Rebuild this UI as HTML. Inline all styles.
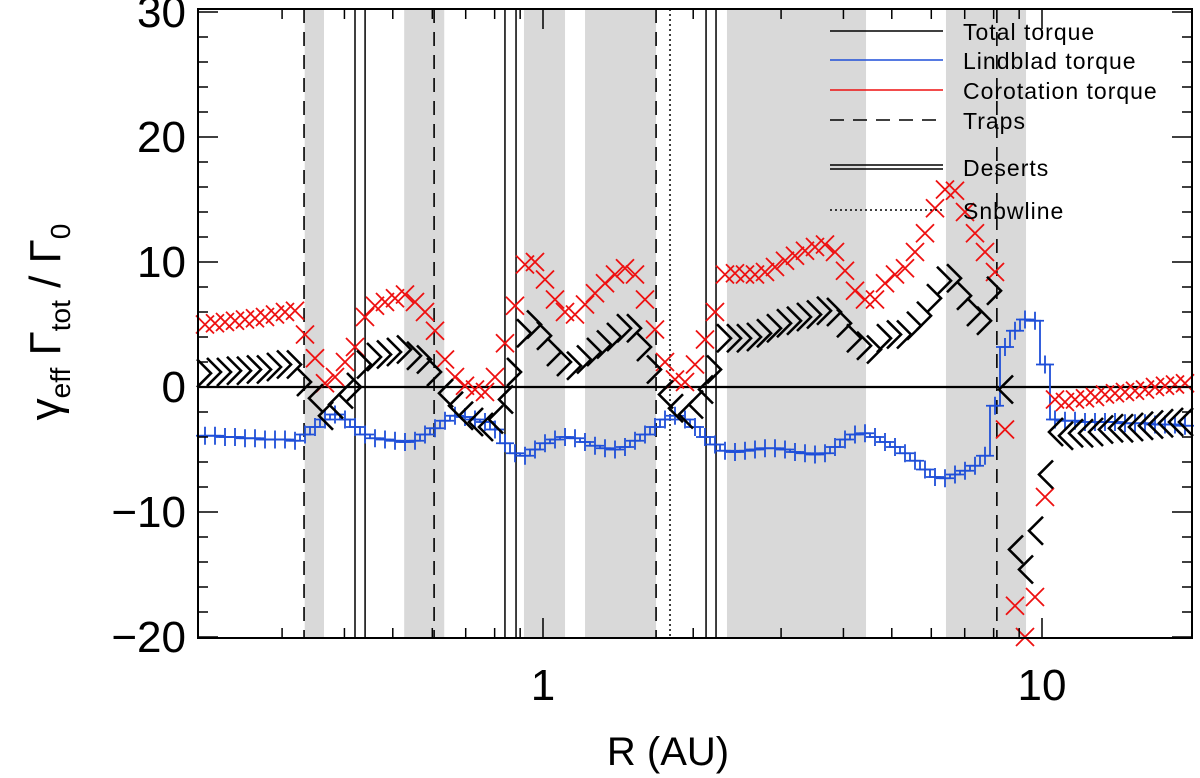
<!DOCTYPE html>
<html><head><meta charset="utf-8"><style>
html,body{margin:0;padding:0;background:#fff;}
svg{display:block;font-family:"Liberation Sans","DejaVu Sans",sans-serif;}
</style></head><body>
<svg id="chart" width="1200" height="778" viewBox="0 0 1200 778">
<g id="bands"></g>
<g id="vlines"></g>
<g id="series"></g>
<g id="axes"></g>
<g id="legend"></g>
</svg>
<script>
// ---- data ----
const gridStartPx = 205, gridStepPx = 10; // sampling grid of radii
const corotation = [5.0,5.1,5.2,5.3,5.4,5.5,5.6,5.8,6.0,6.1,
4.2,2.3,0.3,0.8,2.0,3.2,5.6,6.5,6.8,7.1,7.4,6.8,6.0,4.5,2.2,0.8,0.1,-0.2,-0.4,0.8,
3.5,6.5,9.8,10.0,8.6,7.0,6.0,5.8,6.6,7.5,8.3,9.0,9.5,9.0,7.0,4.6,2.0,0.6,0.4,1.8,
3.8,6.0,9.0,9.1,9.0,9.0,9.2,9.6,10.1,10.5,10.9,11.2,11.4,10.8,9.3,7.7,7.0,7.0,8.3,9.0,
9.5,10.8,12.3,14.3,15.8,15.7,14.0,12.3,10.8,9.2,-3.4,-17.5,-20.0,-16.8,-8.8,
-1.0,-1.2,-1.0,-0.9,-0.8,-0.6,-0.5,-0.4,-0.3,-0.2,0,0.1,0.2,0.3];
const lindblad = [-3.9,-3.9,-4.0,-4.0,-4.1,-4.1,-4.2,-4.2,-4.2,-4.3,
-3.8,-3.2,-2.6,-2.2,-2.6,-3.2,-3.8,-4.1,-4.2,-4.3,-4.4,-4.3,-3.8,-3.3,-2.7,-2.3,-2.4,-2.6,-2.8,-3.4,
-4.5,-5.3,-5.5,-5.0,-4.5,-4.2,-4.0,-4.1,-4.4,-4.7,-4.9,-5.0,-4.8,-4.3,-3.8,-3.2,-2.6,-2.3,-2.6,-3.2,
-4.0,-4.6,-5.1,-5.2,-5.1,-5.0,-4.9,-4.9,-5.0,-5.2,-5.3,-5.4,-5.3,-4.8,-4.2,-3.8,-3.7,-4.0,-4.4,-4.8,
-5.3,-5.9,-6.6,-7.2,-7.3,-7.0,-6.7,-6.3,-5.5,-1.5,3.2,4.5,5.4,5.3,1.8,
-2.6,-2.7,-2.7,-2.8,-2.8,-2.8,-2.8,-2.9,-2.9,-2.9,-3.0,-3.0,-3.0,-3.1];
const bandsR = [[0.333,0.364],[0.527,0.634],[0.916,1.107],[1.214,1.685],[2.337,4.44],[6.42,9.29]];
const trapsR = [0.332,0.605,1.685,8.12];
const desertsR = [[0.420,0.440],[0.839,0.883],[2.122,2.222]];
const snowlineR = [1.797];
const yTicks = [30,20,10,0,-10,-20];
const xTicks = [1,10];
const xTickLabels = ["1","10"];

// ---- scales ----
const X0=198,X1=1192,Y0=9,Y1=638;
const xs = r => 543 + 499*Math.log10(r);
const ys = v => 387 - 12.5*v;
const R = corotation.map((_,k)=>Math.pow(10,(gridStartPx+gridStepPx*k-543)/499));
const NS="http://www.w3.org/2000/svg";
function mk(tag,attrs,parent){const e=document.createElementNS(NS,tag);for(const k in attrs)e.setAttribute(k,attrs[k]);parent.appendChild(e);return e;}
const gB=document.getElementById('bands'),gV=document.getElementById('vlines'),gS=document.getElementById('series'),gA=document.getElementById('axes'),gL=document.getElementById('legend');

bandsR.forEach(b=>{const e=mk('rect',{x:xs(b[0]),y:Y0,width:xs(b[1])-xs(b[0]),height:Y1-Y0,fill:'#d9d9d9'},gB);

});
trapsR.forEach(r=>{const e=mk('line',{x1:xs(r),x2:xs(r),y1:Y0,y2:Y1,stroke:'#000','stroke-width':1.6,'stroke-dasharray':'14,9'},gV);

});
desertsR.forEach(d=>d.forEach(r=>{const e=mk('line',{x1:xs(r),x2:xs(r),y1:Y0,y2:Y1,stroke:'#000','stroke-width':1.5},gV);

}));
snowlineR.forEach(r=>{const e=mk('line',{x1:xs(r),x2:xs(r),y1:Y0,y2:Y1,stroke:'#000','stroke-width':1.5,'stroke-dasharray':'2,3'},gV);

});
const z=mk('line',{x1:X0,x2:X1,y1:ys(0),y2:ys(0),stroke:'#000','stroke-width':2.2},gV);



let d='';
R.forEach((r,k)=>{const x=xs(r),y=ys(lindblad[k]);
 const xl=k?(xs(R[k-1])+x)/2:x-5, xr=k<R.length-1?(x+xs(R[k+1]))/2:x+5;
 d+=(k?'L':'M')+xl+','+y+'L'+xr+','+y;});
const step=mk('path',{d:d,fill:'none',stroke:'#1f4fd8','stroke-width':1.8},gS);


R.forEach((r,k)=>{const x=xs(r),y=ys(lindblad[k]);
 const e=mk('path',{d:`M${x-9},${y}H${x+9}M${x},${y-9}V${y+9}`,stroke:'#1f4fd8','stroke-width':1.8,fill:'none'},gS);
 
 });
R.forEach((r,k)=>{const x=xs(r),y=ys(corotation[k]);
 const e=mk('path',{d:`M${x-9},${y-9}L${x+9},${y+9}M${x-9},${y+9}L${x+9},${y-9}`,stroke:'#ee1111','stroke-width':1.8,fill:'none'},gS);
 
 });
R.forEach((r,k)=>{const v=corotation[k]+lindblad[k];const x=xs(r),y=ys(v);
 const s=v>=0?1:-1, tx=x+6*s;
 const e=mk('path',{d:`M${tx-14*s},${y-14}L${tx},${y}L${tx-14*s},${y+14}`,stroke:'#000','stroke-width':2.6,fill:'none'},gS);
 
 });

const fr=mk('rect',{x:X0,y:Y0,width:X1-X0,height:Y1-Y0,fill:'none',stroke:'#000','stroke-width':2},gA);


for(let v=-20;v<=30;v+=2){const y=ys(v);const L=(v%10===0)?20:10;
 mk('line',{x1:X0,x2:X0+L,y1:y,y2:y,stroke:'#000','stroke-width':1.5},gA);
 mk('line',{x1:X1-L,x2:X1,y1:y,y2:y,stroke:'#000','stroke-width':1.5},gA);}
yTicks.forEach(v=>{const t=mk('text',{x:186,y:ys(v)+15,'text-anchor':'end','font-size':44,fill:'#000'},gA);
 t.textContent=(v<0?'\u2212':'')+Math.abs(v);
 
 });
for(let dec=0.1;dec<=10;dec*=10){for(let m=1;m<10;m++){const r=m*dec;const x=xs(r);if(x<X0||x>X1)continue;
 const L=m===1?20:10;
 mk('line',{x1:x,x2:x,y1:Y1,y2:Y1-L,stroke:'#000','stroke-width':1.5},gA);
 mk('line',{x1:x,x2:x,y1:Y0,y2:Y0+L,stroke:'#000','stroke-width':1.5},gA);}}
xTicks.forEach((r,i)=>{const t=mk('text',{x:xs(r),y:700,'text-anchor':'middle','font-size':44,fill:'#000'},gA);
 t.textContent=xTickLabels[i];
 
 });
const xt=mk('text',{x:668,y:765,'text-anchor':'middle','font-size':40,fill:'#000'},gA);
xt.textContent='R (AU)';


const yt=mk('text',{x:0,y:0,'text-anchor':'middle','font-size':44,fill:'#000',transform:'translate(60,322) rotate(-90)'},gA);
yt.innerHTML='<tspan>γ</tspan><tspan font-size="28" dy="10">eff</tspan><tspan dy="-10"> Γ</tspan><tspan font-size="28" dy="10">tot</tspan><tspan dy="-10"> / Γ</tspan><tspan font-size="28" dy="10">0</tspan>';



const legItems=[["Total torque",31,'#000',''],["Lindblad torque",60,'#1f4fd8',''],["Corotation torque",90,'#ee1111',''],["Traps",120,'#000','14,9'],["Deserts",167,'#000','double'],["Snbwline",210,'#000','2,3']];
legItems.forEach(it=>{const g=mk('g',{},gL);
 
 
 if(it[3]==='double'){mk('line',{x1:830,x2:943,y1:it[1]-2,y2:it[1]-2,stroke:'#000','stroke-width':1.5},g);mk('line',{x1:830,x2:943,y1:it[1]+2,y2:it[1]+2,stroke:'#000','stroke-width':1.5},g);}
 else mk('line',{x1:830,x2:943,y1:it[1],y2:it[1],stroke:it[2],'stroke-width':1.6,'stroke-dasharray':it[3]||'none'},g);
 const t=mk('text',{x:963,y:it[1]+9,'font-size':23,fill:'#000','letter-spacing':'1'},g);t.textContent=it[0];});
</script>
</body></html>
